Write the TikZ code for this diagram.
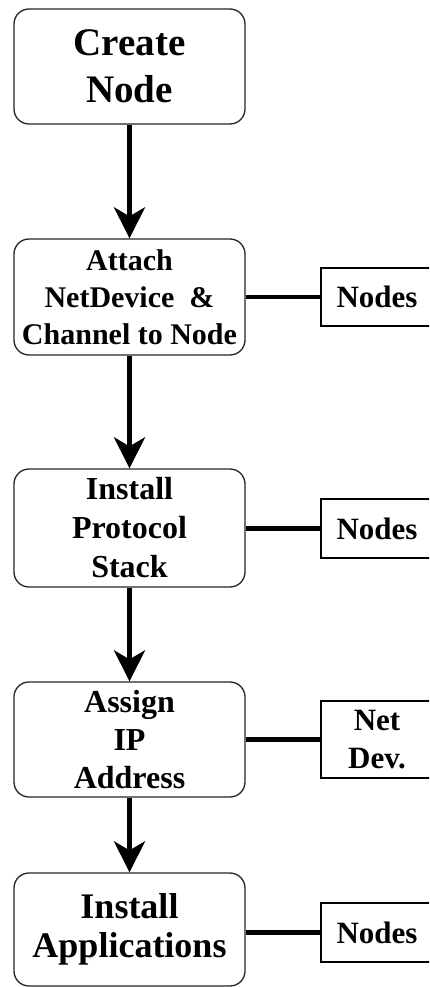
\documentclass[tikz,border=0pt]{standalone}
\usepackage{fontspec}
\setmainfont{Liberation Serif}[BoldFont={Liberation Serif Bold}]
\usetikzlibrary{arrows.meta}
\begin{document}
\begin{tikzpicture}[x=1pt,y=-1pt,
  stepbox/.style={draw=black!85, line width=1.3pt, rounded corners=15pt,
    minimum width=231pt, align=center, inner sep=0pt, font=\bfseries},
  sidebox/.style={draw=black, line width=1.5pt, minimum width=112pt,
    align=center, inner sep=0pt, font=\bfseries\fontsize{31}{38}\selectfont},
  flow/.style={line width=4.5pt, -{Stealth[length=31pt, width=31pt, inset=9pt]}},
  link/.style={line width=4.5pt}]
  \path[use as bounding box] (0,0) rectangle (429,987);
  \clip (0,0) rectangle (429,987);
  \fill[white] (0,0) rectangle (429,987);

  % main steps
  \node[stepbox, minimum height=115pt, font=\rmfamily\bfseries\fontsize{39}{47}\selectfont]
    (create) at (129.5,66.5) {Create\\Node};
  \node[stepbox, minimum height=116pt, font=\rmfamily\bfseries\fontsize{30}{37}\selectfont]
    (attach) at (129.5,297) {Attach\\NetDevice~~\&\\Channel to Node};
  \node[stepbox, minimum height=118pt, font=\rmfamily\bfseries\fontsize{32}{39}\selectfont]
    (stack) at (129.5,528) {Install\\Protocol\\Stack};
  \node[stepbox, minimum height=115pt, font=\rmfamily\bfseries\fontsize{32}{38}\selectfont]
    (assign) at (129.5,739.5) {Assign\\IP\\Address};
  \node[stepbox, minimum height=113pt, font=\rmfamily\bfseries\fontsize{36}{39}\selectfont]
    (apps) at (129.5,929.5) {Install\\Applications};

  % targets of each step
  \node[sidebox, minimum height=58pt] (s1) at (377,297) {Nodes};
  \node[sidebox, minimum height=59pt] (s2) at (377,528.5) {Nodes};
  \node[sidebox, minimum height=77pt] (s3) at (377,739.5) {Net\\Dev.};
  \node[sidebox, minimum height=59pt] (s4) at (377,932.5) {Nodes};

  % flow between steps
  \draw[flow] (create) -- (attach);
  \draw[flow] (attach) -- (stack);
  \draw[flow] (stack) -- (assign);
  \draw[flow] (assign) -- (apps);

  % links to targets
  \draw[link] (attach.east) -- (s1.west);
  \draw[link] (stack.east |- s2.west) -- (s2.west);
  \draw[link] (assign.east) -- (s3.west);
  \draw[link] (apps.east |- s4.west) -- (s4.west);
\end{tikzpicture}
\end{document}
